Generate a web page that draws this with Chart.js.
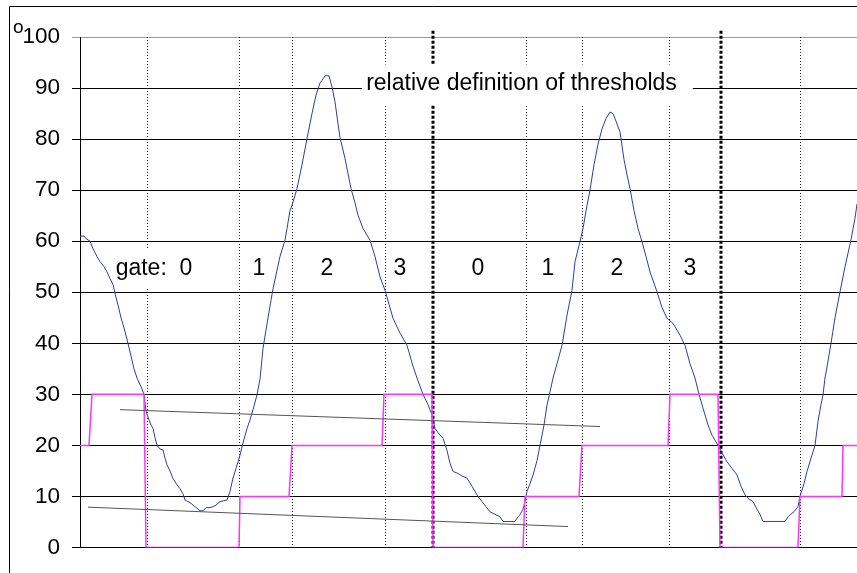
<!DOCTYPE html>
<html>
<head>
<meta charset="utf-8">
<script src="https://cdn.jsdelivr.net/npm/chart.js@4/dist/chart.umd.min.js"></script>
<style>
  html, body { margin: 0; padding: 0; background: #fff; }
  #wrap { width: 857px; height: 573px; position: relative; }
</style>
</head>
<body>
<div id="wrap"><canvas id="myChart"></canvas></div>
<script>
// sample position (x) and signal value of the blue trace
const signalX = [0,4,6,10,13,17,20,24,27,30,33,36,38,41,44,48,51,54,57,61,64,66,69,71,73,75,77,80,83,85,87,90,93,97,100,103,105,110,115,120,123,126,130,133,136,140,147,150,153,156,158,160,163,167,170,173,177,180,183,188,193,200,205,207,210,212,217,222,227,232,236,240,242,245,249,252,255,258,260,265,271,275,278,283,290,295,300,305,313,320,327,333,337,343,348,352,355,358,363,367,370,373,378,382,387,392,397,402,406,410,415,420,423,430,435,438,440,443,445,447,450,453,457,460,464,467,470,473,477,482,487,492,495,500,503,507,510,514,518,522,526,530,533,536,540,544,547,550,554,558,562,566,570,577,582,587,593,600,605,610,615,619,623,628,632,635,638,642,647,652,657,661,665,669,673,677,680,683,690,698,705,708,710,714,718,720,724,727,731,735,738,741,743,745,748,751,755,760,765,771,775,777];
const signalY = [61,61,60.5,60,58.5,57,56,55,54,52.7,51.5,49,47.5,45,43,40,37.5,35,33.2,31.5,30,26.7,25,24,23.3,21.5,20,19.3,19.1,17.5,16.2,15,13.5,12.3,11.5,10.5,9.3,8.8,8,7.2,7.2,7.8,7.8,8,8.3,9,9.3,11,13.6,15.5,16.8,18.1,20.5,23.3,25,27,29.9,33,39,45,50.7,57,60.2,62.5,66,67,70.3,75,80.1,85,88.6,91,91.5,92.4,92.4,90.2,87.3,83,80.3,76.2,70.3,67.5,65.1,62.5,60.2,57,53,50.4,44.9,42,39.6,35.5,33.2,30,28,26,23.3,22.5,21.4,19,16.5,14.9,14.5,14,13.6,12,10.3,9,8,7,6.5,6,5.1,5.1,5.1,6,6.4,7.5,9,11,12.5,14.2,17,20,24,27.9,30.5,33.2,36,39.6,45.5,50.4,56,59.9,62.5,67,70,75,79,82,84,85.3,85,83.5,81.4,76,73,70.3,66,62.5,59.9,57,54,50.1,47,44.9,43.9,41.6,39.6,36,33.2,30,27.3,24,22,21,20,18.5,16.8,15.5,14.2,12,10.3,9.5,9,7.5,6.5,5.1,5.1,5.1,5.1,6,6.4,7,8,10,12.5,14.9,17.5,20,24.7,28,29.9,33.2,36.5,40,45,50.1,55,60.3,64.5,67.3];

// gate step function (magenta)
const gateX = [0,9,12,64,66,159,160,209,212,302,304,352,353,443,445,499,502,588,590,638,640,718,720,762,763,777];
const gateY = [20,20,30,30,0,0,10,10,20,20,30,30,0,0,10,10,20,20,30,30,0,0,10,10,20,20];

// threshold trend lines
const upperX = [40, 520];
const upperY = [27, 23.7];
const lowerX = [8, 488];
const lowerY = [7.9, 4.1];

// gate boundaries (dotted) and cycle boundaries (heavy dashed)
const gateEdges = [67, 159, 212, 305, 446, 502, 589, 720];
const cycleEdges = [353, 641];

// gate labels
const gateLabels = ['gate:  0', '1', '2', '3', '0', '1', '2', '3'];
const gateLabelX = [74, 179, 247, 320, 398, 468, 537, 610];
const gateLabelY = 54.7;

const titleText = 'relative definition of thresholds';
const titleX = 441.5;
const titleY = 90.9;

const yTicks = [0, 10, 20, 30, 40, 50, 60, 70, 80, 90, 100];

function pts(xs, ys) {
  return xs.map((x, i) => ({ x: x, y: ys[i] }));
}

const FONT = "'Liberation Sans', Arial, sans-serif";

const decor = {
  id: 'decor',
  beforeDatasetsDraw(chart) {
    const ctx = chart.ctx;
    const xs = chart.scales.x;
    const ys = chart.scales.y;
    ctx.save();
    // thin dotted gate lines
    ctx.strokeStyle = '#222';
    ctx.lineWidth = 1;
    ctx.setLineDash([1, 2]);
    gateEdges.forEach(v => {
      const px = Math.round(xs.getPixelForValue(v)) + 0.5;
      ctx.beginPath();
      ctx.moveTo(px, ys.getPixelForValue(100));
      ctx.lineTo(px, ys.getPixelForValue(0));
      ctx.stroke();
    });
    // heavy cycle lines
    ctx.strokeStyle = '#000';
    ctx.lineWidth = 3;
    ctx.setLineDash([3, 2]);
    cycleEdges.forEach(v => {
      const px = Math.round(xs.getPixelForValue(v));
      ctx.beginPath();
      ctx.moveTo(px, ys.getPixelForValue(101.2));
      ctx.lineTo(px, ys.getPixelForValue(0));
      ctx.stroke();
    });
    ctx.setLineDash([]);

    // text with white boxes
    ctx.font = '23px ' + FONT;
    ctx.textBaseline = 'middle';
    ctx.textAlign = 'center';
    const tx = xs.getPixelForValue(titleX);
    const ty = ys.getPixelForValue(titleY);
    const tw = ctx.measureText(titleText).width;
    ctx.fillStyle = '#fff';
    ctx.fillRect(tx - tw / 2 - 4, ty - 19, tw + 20, 40);
    ctx.fillStyle = '#000';
    ctx.fillText(titleText, tx, ty);

    gateLabels.forEach((t, i) => {
      const lx = xs.getPixelForValue(gateLabelX[i]);
      const ly = ys.getPixelForValue(gateLabelY);
      const w = ctx.measureText(t).width;
      if (i === 0) {
        ctx.fillStyle = '#fff';
        ctx.fillRect(lx - w / 2 - 3, ly - 20, w + 6, 40);
      }
      ctx.fillStyle = '#000';
      ctx.fillText(t, lx, ly);
    });
    ctx.restore();
  },
  afterDraw(chart) {
    const ctx = chart.ctx;
    ctx.save();
    ctx.strokeStyle = '#000';
    ctx.lineWidth = 1;
    ctx.beginPath();
    ctx.moveTo(9.5, 573);
    ctx.lineTo(9.5, 6.5);
    ctx.lineTo(857, 6.5);
    ctx.stroke();
    ctx.fillStyle = '#000';
    ctx.font = '19px ' + FONT;
    ctx.textAlign = 'left';
    ctx.textBaseline = 'alphabetic';
    ctx.fillText('o', 13, 33);
    ctx.restore();
  }
};

const ctx = document.getElementById('myChart').getContext('2d');
const myChart = new Chart(ctx, {
  type: 'scatter',
  data: {
    datasets: [
      {
        label: 'upper',
        data: pts(upperX, upperY),
        showLine: true,
        borderColor: '#555',
        borderWidth: 1,
        pointRadius: 0
      },
      {
        label: 'lower',
        data: pts(lowerX, lowerY),
        showLine: true,
        borderColor: '#555',
        borderWidth: 1,
        pointRadius: 0
      },
      {
        label: 'gate',
        data: pts(gateX, gateY),
        showLine: true,
        borderColor: '#ff33ff',
        borderWidth: 1.5,
        pointRadius: 0
      },
      {
        label: 'signal',
        data: pts(signalX, signalY),
        showLine: true,
        borderColor: '#2b3fa8',
        borderWidth: 1,
        pointRadius: 0
      }
    ]
  },
  options: {
    responsive: true,
    maintainAspectRatio: false,
    animation: false,
    layout: { padding: { top: 37, right: 0, bottom: 24, left: 0 } },
    plugins: {
      legend: { display: false },
      tooltip: { enabled: false }
    },
    scales: {
      x: {
        type: 'linear',
        min: 0,
        max: 777,
        display: false
      },
      y: {
        min: 0,
        max: 100,
        afterBuildTicks: s => { s.ticks = yTicks.map(v => ({ value: v })); },
        afterFit: s => { s.width = 80; },
        border: { color: '#000', width: 1 },
        grid: {
          color: c => c.tick && c.tick.value === 100 ? '#999' : '#000',
          lineWidth: 1,
          tickLength: 8,
          drawTicks: true
        },
        ticks: {
          color: '#000',
          padding: 12,
          font: { family: FONT, size: 22.5 }
        }
      }
    }
  },
  plugins: [decor]
});
</script>
</body>
</html>
